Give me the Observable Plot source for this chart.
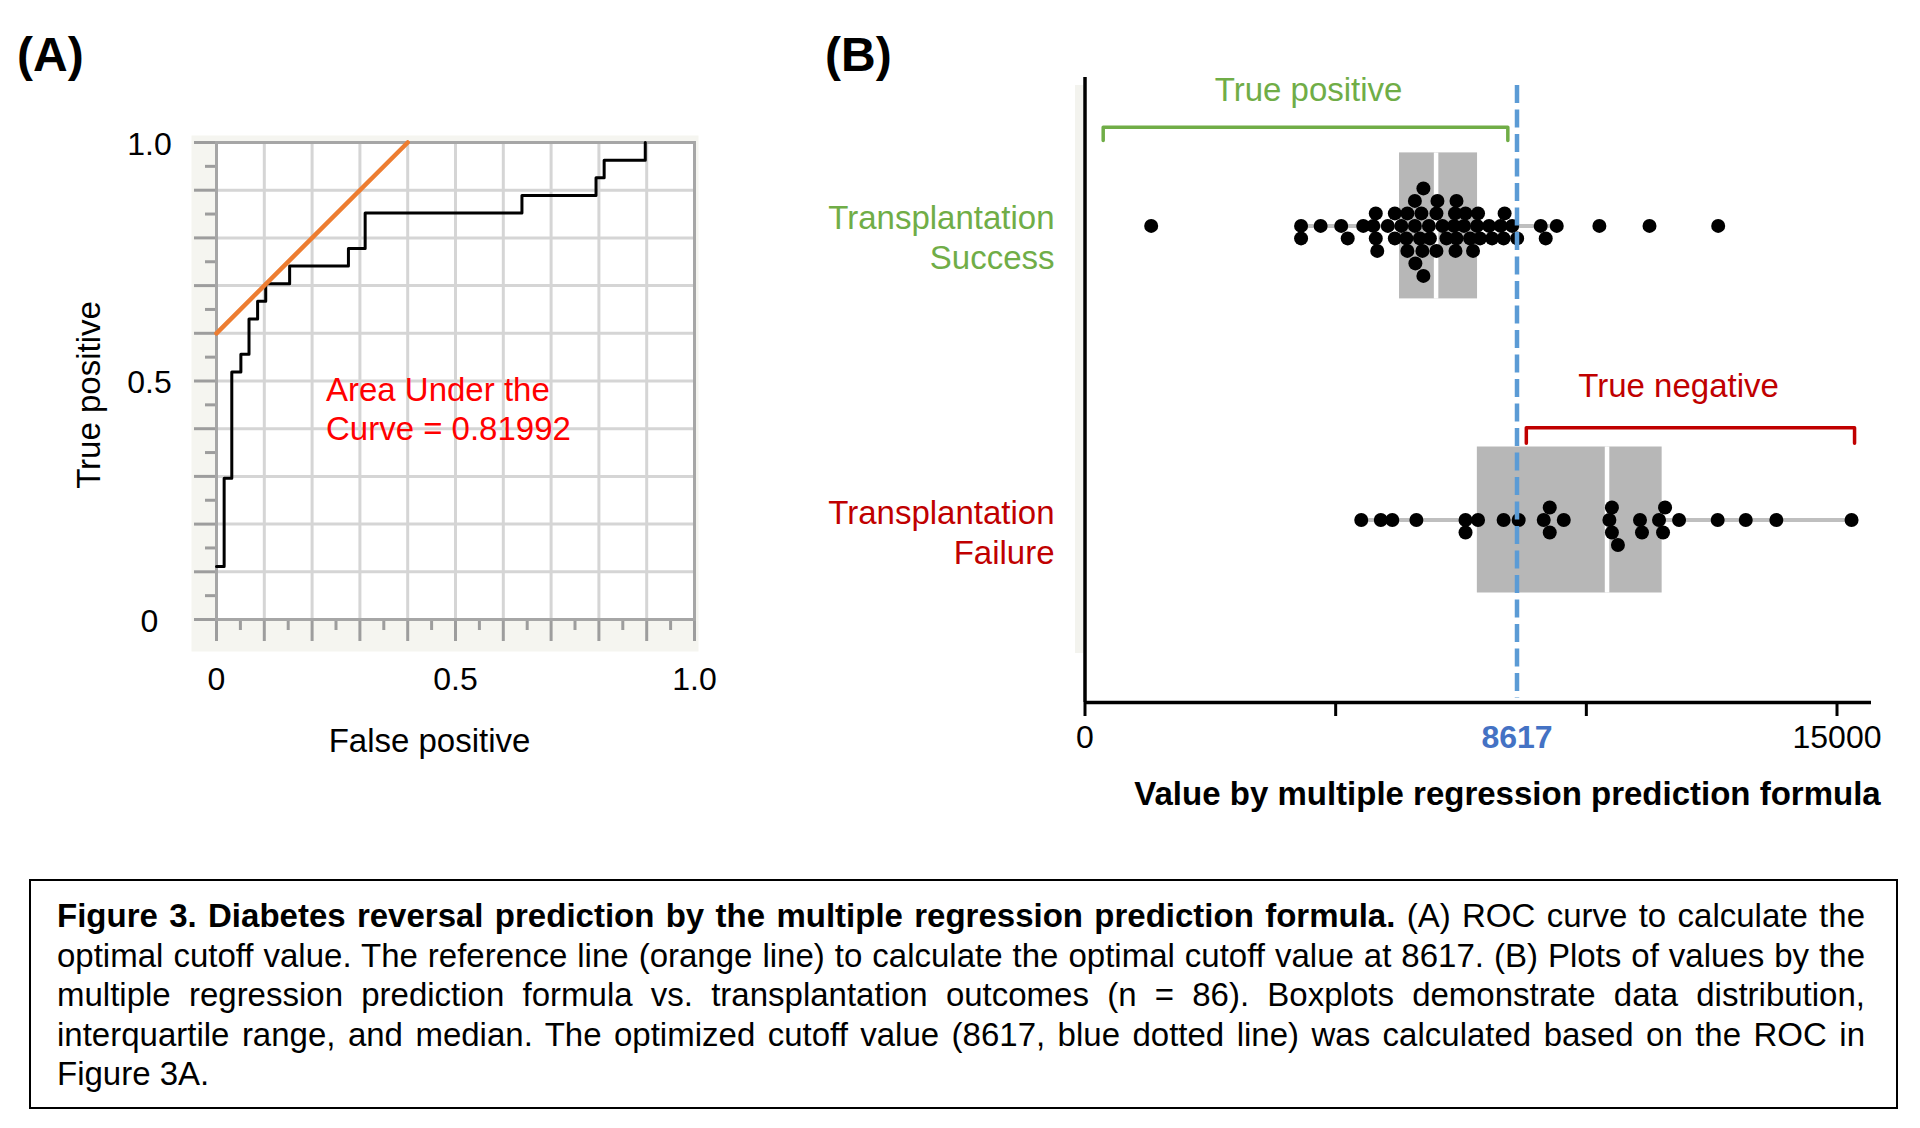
<!DOCTYPE html>
<html><head><meta charset="utf-8">
<script src="https://cdn.jsdelivr.net/npm/d3@7"></script>
<script src="https://cdn.jsdelivr.net/npm/@observablehq/plot@0.6"></script>
<style>
html,body{margin:0;padding:0;background:#fff;}
body{width:1920px;height:1128px;position:relative;overflow:hidden;font-family:"Liberation Sans",Arial,Helvetica,sans-serif;color:#000;}
.panel{position:absolute;top:0;}
.plabel{position:absolute;font-weight:bold;font-size:48px;line-height:48px;}
.capbox{position:absolute;left:29px;top:879px;width:1869px;height:230px;border:2.5px solid #000;box-sizing:border-box;}
.cap{position:absolute;left:57px;width:1808px;height:39.5px;line-height:39.5px;font-size:33px;text-align:justify;text-align-last:justify;}
.strip{position:absolute;left:1075px;top:85px;width:8px;height:568px;background:#f3f3ee;}
</style></head><body>
<div class="plabel" style="left:17px;top:31px;">(A)</div>
<div class="plabel" style="left:825px;top:31px;">(B)</div>
<div class="strip"></div>
<div id="panelA" class="panel" style="left:0px;"></div>
<div id="panelB" class="panel" style="left:780px;"></div>
<div class="capbox"></div>
<div id="caption"></div>
<script>
// ---------------- DATA ----------------
// Panel A: ROC curve (false positive rate, true positive rate)
const rocFPR = [0, 0.016, 0.032, 0.051, 0.068, 0.086, 0.103, 0.153, 0.276, 0.311, 0.639, 0.794, 0.811, 0.897];
const rocTPR = [0.111, 0.296, 0.519, 0.556, 0.630, 0.667, 0.704, 0.741, 0.778, 0.852, 0.889, 0.926, 0.963, 1.0];
// reference (orange) line
const refFPR = [0, 0.4];
const refTPR = [0.6, 1.0];
const aucLabel = "Area Under the\nCurve = 0.81992";
const rocMajorTicks = [0, 0.1, 0.2, 0.3, 0.4, 0.5, 0.6, 0.7, 0.8, 0.9, 1];
const rocMinorTicks = [0.05, 0.15, 0.25, 0.35, 0.45, 0.55, 0.65, 0.75, 0.85, 0.95];
const rocGrid = [0.1, 0.2, 0.3, 0.4, 0.5, 0.6, 0.7, 0.8, 0.9];
const rocTickValues = [0, 0.5, 1];
const rocTickLabels = ["0", "0.5", "1.0"];

// Panel B: values by multiple regression prediction formula
const categories = ["Success", "Failure"];
const categoryLabels = ["Transplantation\nSuccess", "Transplantation\nFailure"];
const categoryColors = ["#70ad47", "#c00000"];
const successValues = [1320, 4310, 4700, 5110, 5550, 5830, 6040, 6310, 6590, 6860, 7130, 7360, 7560, 7820, 8060, 8290, 8520, 9090, 9410, 10260, 11260, 12630,
  5800, 6180, 6410, 6730, 7010, 7380, 7590, 7840, 8370, 6580, 7030, 7410, 6430, 6750, 6750,
  4310, 5240, 5750, 6180, 6430, 6680, 6880, 7210, 7410, 7680, 7880, 8120, 8350, 8620, 9190,
  5800, 6580, 7010, 7390, 7740, 6710];
const failureValues = [5510, 5900, 6130, 6610, 7590, 7840, 8350, 8650, 9150, 9550, 10460, 11070, 11450, 11850, 12620, 13180, 13790, 15290,
  9270, 10510, 11570, 7590, 9270, 10510, 11110, 11530, 10630];
const boxQ1 = [6274, 7826];
const boxMedian = [7003, 10413];
const boxQ3 = [7830, 11512];
const whiskerLow = [4313, 5510];
const whiskerHigh = [9406, 15290];
const cutoff = 8617;
const xTicksB = [0, 5000, 10000, 15000];
const xTickLabelValuesB = [0, 15000];
const xTickLabelsB = ["0", "15000"];
const bracketLabels = ["True positive", "True negative"];
const bracketStart = [363, 8803];
const bracketEnd = [8434, 15350];
const bracketLabelAt = [4460, 11840];
const bracketColors = ["#70ad47", "#c00000"];

const captionLines = [
  "<b>Figure 3. Diabetes reversal prediction by the multiple regression prediction formula.</b> (A) ROC curve to calculate the",
  "optimal cutoff value. The reference line (orange line) to calculate the optimal cutoff value at 8617. (B) Plots of values by the",
  "multiple regression prediction formula vs. transplantation outcomes (n = 86). Boxplots demonstrate data distribution,",
  "interquartile range, and median. The optimized cutoff value (8617, blue dotted line) was calculated based on the ROC in",
  "Figure 3A."
];

const FONT = '"Liberation Sans", Arial, Helvetica, sans-serif';

// ---------------- PANEL A ----------------
const A = {width: 780, height: 860, left: 216, right: 694, top: 142, bottom: 619};
const kxA = A.right - A.left, kyA = A.bottom - A.top;
const roc = rocFPR.map((x, i) => ({x, y: rocTPR[i]}));
const ref = refFPR.map((x, i) => ({x, y: refTPR[i]}));
const tickGray = "#9d9d9d";

const plotA = Plot.plot({
  width: A.width, height: A.height,
  marginLeft: A.left, marginRight: A.width - A.right, marginTop: A.top, marginBottom: A.height - A.bottom,
  x: {domain: [0, 1], axis: null},
  y: {domain: [0, 1], axis: null},
  style: {fontFamily: FONT, background: "transparent", overflow: "visible"},
  marks: [
    Plot.frame({fill: "#f5f5f0", insetLeft: -25, insetRight: -4, insetTop: -7, insetBottom: -32}),
    Plot.frame({fill: "white"}),
    Plot.ruleX(rocGrid, {stroke: "#d5d5d5", strokeWidth: 3}),
    Plot.ruleY(rocGrid, {stroke: "#d5d5d5", strokeWidth: 3}),
    Plot.ruleX(rocMajorTicks, {y1: 0, y2: -22 / kyA, stroke: tickGray, strokeWidth: 3}),
    Plot.ruleX(rocMinorTicks, {y1: 0, y2: -11 / kyA, stroke: tickGray, strokeWidth: 3}),
    Plot.ruleY(rocMajorTicks, {x1: 0, x2: -22 / kxA, stroke: tickGray, strokeWidth: 3}),
    Plot.ruleY(rocMinorTicks, {x1: 0, x2: -11 / kxA, stroke: tickGray, strokeWidth: 3}),
    Plot.frame({stroke: "#a6a6a6", strokeWidth: 3}),
    Plot.line(roc, {x: "x", y: "y", curve: "step-after", stroke: "black", strokeWidth: 3}),
    Plot.line(ref, {x: "x", y: "y", stroke: "#ed7d31", strokeWidth: 4.5}),
    Plot.text([{x: 0.229, y: 0.444, t: aucLabel}], {x: "x", y: "y", text: "t", textAnchor: "start", lineAnchor: "middle", fill: "#ff0000", fontSize: 33, lineHeight: 1.2}),
    Plot.text(rocTickValues.map((v, i) => ({v, t: rocTickLabels[i]})), {x: "v", text: "t", frameAnchor: "bottom", lineAnchor: "middle", textAnchor: "middle", dy: 60, fontSize: 32, fill: "black"}),
    Plot.text(rocTickValues.map((v, i) => ({v, t: rocTickLabels[i]})), {y: "v", text: "t", frameAnchor: "left", lineAnchor: "middle", dx: -67, dy: 2, textAnchor: "middle", fontSize: 32, fill: "black"}),
    Plot.text(["False positive"], {frameAnchor: "bottom", lineAnchor: "middle", textAnchor: "middle", dx: -26, dy: 122, fontSize: 33, fill: "black"}),
    Plot.text(["True positive"], {frameAnchor: "left", lineAnchor: "middle", textAnchor: "middle", dx: -127.5, dy: 14, rotate: -90, fontSize: 33, fill: "black"})
  ]
});
document.getElementById("panelA").appendChild(plotA);

// ---------------- PANEL B ----------------
const B = {width: 1140, height: 860, left: 304.5, right: 1091, top: 77, bottom: 702};
const xMaxB = 15688;
const rowPx = {Success: 225.4, Failure: 519.5};   // vertical centre of each row
const rowPos = {Success: 1, Failure: 0};
const kY = rowPx.Failure - rowPx.Success;          // px per row unit
const yDomainB = [-(B.bottom - rowPx.Failure) / kY, (rowPx.Failure - B.top) / kY];
const yPx = (px) => (rowPx.Failure - px) / kY;     // page px -> y units
const pxPerX = (B.right - B.left) / xMaxB;

// beeswarm layout: greedy levels 0,-1,1,-2,2,... with a minimum horizontal gap
function swarmLevels(values, minGapPx) {
  const order = [0, -1, 1, -2, 2, -3, 3, -4, 4, -5, 5, -6, 6];
  const used = new Map();
  const levels = new Array(values.length);
  values.map((v, i) => ({v, i})).sort((a, b) => a.v - b.v).forEach(({v, i}) => {
    for (const L of order) {
      const arr = used.get(L) || [];
      if (arr.every(u => Math.abs(u - v) * pxPerX >= minGapPx)) {
        arr.push(v); used.set(L, arr); levels[i] = L; return;
      }
    }
  });
  return levels;
}
const levelStep = 12.5 / kY;
const dots = [];
[[categories[0], successValues], [categories[1], failureValues]].forEach(([cat, vals]) => {
  const lv = swarmLevels(vals, 10);
  vals.forEach((v, i) => dots.push({cat, v, y: rowPos[cat] + lv[i] * levelStep}));
});
const boxHalf = 73 / kY;
const boxes = categories.map((cat, i) => ({
  cat, y: rowPos[cat], q1: boxQ1[i], med: boxMedian[i], q3: boxQ3[i], lo: whiskerLow[i], hi: whiskerHigh[i]
}));
const bracketLines = [];
const bracketY = [{top: 126.7, end: 140}, {top: 427.3, end: 442.7}];
bracketLabels.forEach((lab, i) => {
  const yt = yPx(bracketY[i].top), ye = yPx(bracketY[i].end);
  bracketLines.push(
    {b: lab, x: bracketStart[i], y: ye}, {b: lab, x: bracketStart[i], y: yt},
    {b: lab, x: bracketEnd[i], y: yt}, {b: lab, x: bracketEnd[i], y: ye});
});
const bracketTextY = [90, 385.7];

const plotB = Plot.plot({
  width: B.width, height: B.height,
  marginLeft: B.left, marginRight: B.width - B.right, marginTop: B.top, marginBottom: B.height - B.bottom,
  x: {domain: [0, xMaxB], axis: null},
  y: {domain: yDomainB, axis: null},
  style: {fontFamily: FONT, background: "transparent", overflow: "visible"},
  marks: [
    Plot.ruleY(boxes, {x1: "lo", x2: "hi", y: "y", stroke: "#bfbfbf", strokeWidth: 4}),
    Plot.rect(boxes, {x1: "q1", x2: "med", y1: d => d.y - boxHalf, y2: d => d.y + boxHalf, fill: "#b7b7b7"}),
    Plot.rect(boxes, {x1: "med", x2: "q3", y1: d => d.y - boxHalf, y2: d => d.y + boxHalf, fill: "#b7b7b7"}),
    Plot.ruleX(boxes, {x: "med", y1: d => d.y - boxHalf, y2: d => d.y + boxHalf, stroke: "white", strokeWidth: 4.5}),
    Plot.dot(dots, {x: "v", y: "y", r: 7, fill: "black", stroke: null}),
    Plot.ruleX([cutoff], {stroke: "#5b9bd5", strokeWidth: 4.5, strokeDasharray: "18,6.5", insetTop: 8, insetBottom: 4}),
    Plot.ruleX([0], {stroke: "black", strokeWidth: 3.5}),
    Plot.ruleY([yDomainB[0]], {stroke: "black", strokeWidth: 3.5}),
    Plot.ruleX(xTicksB, {y1: yDomainB[0], y2: yDomainB[0] - 14 / kY, stroke: "black", strokeWidth: 3}),
    Plot.text(xTickLabelValuesB.map((v, i) => ({v, t: xTickLabelsB[i]})), {x: "v", text: "t", frameAnchor: "bottom", lineAnchor: "middle", textAnchor: "middle", dy: 35, fontSize: 32, fill: "black"}),
    Plot.text([{v: cutoff, t: String(cutoff)}], {x: "v", text: "t", frameAnchor: "bottom", lineAnchor: "middle", textAnchor: "middle", dy: 35, fontSize: 32, fontWeight: "bold", fill: "#4472c4"}),
    Plot.text(["Value by multiple regression prediction formula"], {frameAnchor: "bottom", lineAnchor: "middle", textAnchor: "middle", dx: 29.25, dy: 92, fontSize: 33, fontWeight: "bold", fill: "black"}),
    Plot.text([{x: 0, y: rowPos.Success, t: categoryLabels[0]}], {x: "x", y: "y", text: "t", dx: -30.5, dy: 10, textAnchor: "end", lineAnchor: "middle", fill: categoryColors[0], fontSize: 33, lineHeight: 1.22}),
    Plot.text([{x: 0, y: rowPos.Failure, t: categoryLabels[1]}], {x: "x", y: "y", text: "t", dx: -30.5, dy: 11, textAnchor: "end", lineAnchor: "middle", fill: categoryColors[1], fontSize: 33, lineHeight: 1.22}),
    Plot.line(bracketLines.filter(d => d.b === bracketLabels[0]), {x: "x", y: "y", stroke: bracketColors[0], strokeWidth: 3.5, strokeLinejoin: "round"}),
    Plot.line(bracketLines.filter(d => d.b === bracketLabels[1]), {x: "x", y: "y", stroke: bracketColors[1], strokeWidth: 3.5, strokeLinejoin: "round"}),
    Plot.text([{x: bracketLabelAt[0], y: yPx(bracketTextY[0]), t: bracketLabels[0]}], {x: "x", y: "y", text: "t", fill: bracketColors[0], fontSize: 33}),
    Plot.text([{x: bracketLabelAt[1], y: yPx(bracketTextY[1]), t: bracketLabels[1]}], {x: "x", y: "y", text: "t", fill: bracketColors[1], fontSize: 33})
  ]
});
document.getElementById("panelB").appendChild(plotB);

// ---------------- CAPTION ----------------
const cap = document.getElementById("caption");
captionLines.forEach((html, i) => {
  const d = document.createElement("div");
  d.className = "cap";
  d.style.top = (896.25 + i * 39.5) + "px";
  if (i === captionLines.length - 1) { d.style.textAlign = "left"; d.style.textAlignLast = "left"; }
  d.innerHTML = html;
  cap.appendChild(d);
});
</script>
</body></html>
